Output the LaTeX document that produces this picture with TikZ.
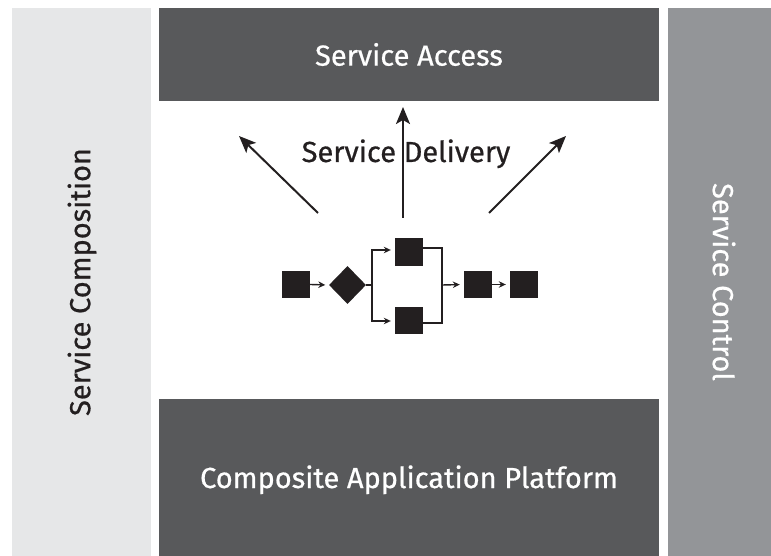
\documentclass[tikz,border=0pt]{standalone}
\usepackage{fontspec}
\setmainfont{Fira Sans}[FakeBold=0.4]
\newfontfamily\captionfont{Fira Sans}[FakeBold=0.6]
\usetikzlibrary{arrows.meta,shapes.geometric}
\definecolor{panellight}{HTML}{E6E7E8}
\definecolor{paneldark}{HTML}{58595B}
\definecolor{panelmid}{HTML}{939598}
\definecolor{ink}{HTML}{231F20}
\begin{document}
\begin{tikzpicture}[x=1pt,y=-1pt,
  caption/.style={font=\captionfont\fontsize{29}{34}\selectfont, inner sep=0pt},
  block/.style={fill=ink, minimum width=28pt, minimum height=27pt, inner sep=0pt},
  gate/.style={diamond, fill=ink, minimum width=37pt, minimum height=38pt, inner sep=0pt},
  flow/.style={draw=ink, line width=1.4pt},
  flowarrow/.style={flow, -{Stealth[length=7pt,width=6.5pt]}},
  bigarrow/.style={draw=ink, line width=2pt, -{Stealth[length=17pt,width=14pt,inset=4pt]}}]
  \useasboundingbox (0,0) rectangle (771,556);
  \fill[white] (0,0) rectangle (771,556);

  % side panels and layer boxes
  \fill[panellight] (12,8) rectangle (151,556);
  \fill[paneldark] (159,8) rectangle (659,101);
  \fill[paneldark] (159,399) rectangle (659,556);
  \fill[panelmid] (668,8) rectangle (771,556);

  \node[caption, text=white] (access) at (409,54.5) {Service Access};
  \node[caption, text=white, anchor=base] (platform) at (409,488) {Composite Application Platform};
  \node[caption, text=ink, rotate=90] (composition) at (82,282) {Service Composition};
  \node[caption, text=white, rotate=-90] (control) at (724,282) {Service Control};

  % delivery arrows
  \node[caption, text=ink, anchor=base] (delivery) at (406,162) {Service Delivery};
  \coordinate (tailL) at (318,213);
  \coordinate (tipL) at (239,136);
  \coordinate (tailC) at (403,218);
  \coordinate (tipC) at (403,107);
  \coordinate (tailR) at (489,213);
  \coordinate (tipR) at (566,136);
  \draw[bigarrow] (tailL) -- (tipL);
  \draw[bigarrow] (tailC) -- (tipC);
  \draw[bigarrow] (tailR) -- (tipR);

  % process flow
  \node[block] (s1) at (296,284.5) {};
  \node[gate] (g) at (347.5,285) {};
  \node[block] (up) at (409,252) {};
  \node[block] (down) at (409,320) {};
  \node[block] (s4) at (478,284.5) {};
  \node[block] (s5) at (524,284.5) {};
  \coordinate (split) at (372,285);
  \coordinate (join) at (442,285);

  \draw[flowarrow, shorten >=3.5pt] (s1.east) -- (g.west);
  \draw[flow] (g.east) -- (split);
  \draw[flowarrow, shorten >=4pt] (split) |- ([yshift=2pt]up.west);
  \draw[flowarrow, shorten >=4pt] (split) |- ([yshift=-1pt]down.west);
  \draw[flow] ([yshift=4pt]up.east) -| (join);
  \draw[flow] ([yshift=-3pt]down.east) -| (join);
  \draw[flowarrow, shorten >=4pt] (join) -- (s4.west);
  \draw[flowarrow, shorten >=4pt] (s4.east) -- (s5.west);
\end{tikzpicture}
\end{document}
